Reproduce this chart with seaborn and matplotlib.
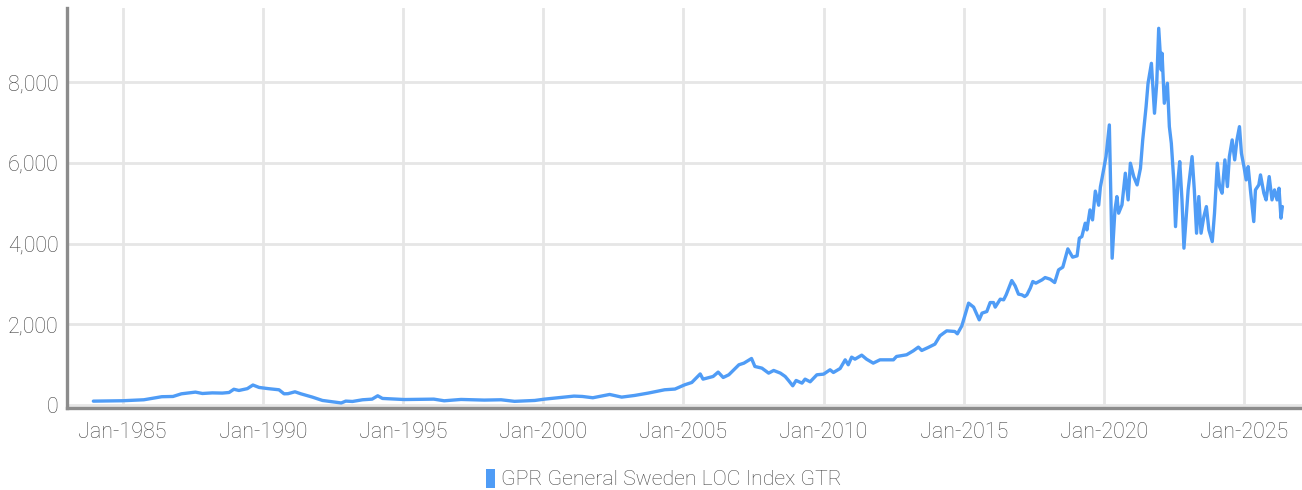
import matplotlib
matplotlib.use("Agg")
import matplotlib.pyplot as plt
import seaborn as sns
import pandas as pd
from matplotlib.patches import Patch
from matplotlib.ticker import FuncFormatter
from matplotlib import font_manager

series_name = "GPR General Sweden LOC Index GTR"

years = [
    1983.96, 1985.00, 1985.76, 1986.40, 1986.80, 1987.10, 1987.60, 1987.85, 1988.20, 1988.56,
    1988.80, 1988.97, 1989.15, 1989.45, 1989.65, 1989.87, 1990.20, 1990.58, 1990.76, 1990.90,
    1991.15, 1991.36, 1991.77, 1992.13, 1992.50, 1992.80, 1992.96, 1993.20, 1993.56, 1993.90,
    1994.10, 1994.27, 1994.75, 1995.05, 1996.10, 1996.47, 1997.07, 1997.90, 1998.50, 1998.98,
    1999.70, 2000.05, 2000.64, 2001.10, 2001.40, 2001.77, 2002.37, 2002.80, 2003.26, 2003.74,
    2004.33, 2004.70, 2005.05, 2005.30, 2005.60, 2005.70, 2006.06, 2006.24, 2006.42, 2006.62,
    2006.98, 2007.16, 2007.43, 2007.55, 2007.80, 2008.04, 2008.22, 2008.46, 2008.63, 2008.75,
    2008.90, 2009.02, 2009.23, 2009.34, 2009.52, 2009.76, 2010.00, 2010.23, 2010.35, 2010.59,
    2010.77, 2010.88, 2011.00, 2011.12, 2011.36, 2011.53, 2011.77, 2012.01, 2012.25, 2012.49,
    2012.60, 2012.96, 2013.20, 2013.38, 2013.50, 2013.73, 2013.97, 2014.15, 2014.39, 2014.68,
    2014.77, 2014.93, 2015.17, 2015.35, 2015.55, 2015.65, 2015.82, 2015.94, 2016.06, 2016.12,
    2016.30, 2016.42, 2016.51, 2016.71, 2016.83, 2016.95, 2017.07, 2017.17, 2017.25, 2017.37,
    2017.46, 2017.57, 2017.79, 2017.90, 2018.08, 2018.24, 2018.38, 2018.53, 2018.71, 2018.88,
    2019.04, 2019.12, 2019.21, 2019.33, 2019.39, 2019.50, 2019.59, 2019.69, 2019.81, 2019.87,
    2019.93, 2020.07, 2020.19, 2020.29, 2020.39, 2020.46, 2020.52, 2020.64, 2020.76, 2020.86,
    2020.94, 2021.06, 2021.18, 2021.30, 2021.38, 2021.50, 2021.57, 2021.69, 2021.80, 2021.88,
    2021.95, 2022.04, 2022.07, 2022.15, 2022.26, 2022.33, 2022.40, 2022.49, 2022.55, 2022.64,
    2022.70, 2022.78, 2022.85, 2022.93, 2023.00, 2023.14, 2023.22, 2023.30, 2023.38, 2023.46,
    2023.56, 2023.65, 2023.74, 2023.86, 2023.94, 2024.04, 2024.12, 2024.21, 2024.31, 2024.40,
    2024.47, 2024.57, 2024.66, 2024.74, 2024.83, 2024.90, 2024.99, 2025.07, 2025.14, 2025.22,
    2025.34, 2025.40, 2025.52, 2025.58, 2025.70, 2025.78, 2025.89, 2025.99, 2026.08, 2026.17,
    2026.24, 2026.31, 2026.36,
]

values = [
    90, 100, 124, 200, 206, 272, 314, 280, 295, 290,
    305, 385, 355, 400, 490, 430, 400, 372, 272, 275,
    322, 272, 190, 107, 74, 45, 91, 82, 124, 140,
    223, 157, 140, 130, 140, 99, 132, 116, 124, 85,
    107, 140, 181, 215, 206, 174, 256, 190, 231, 289,
    372, 390, 496, 553, 765, 636, 702, 810, 677, 744,
    992, 1033, 1148, 950, 909, 785, 851, 785, 702, 603,
    471, 603, 537, 636, 570, 744, 760, 868, 801, 900,
    1115, 992, 1181, 1132, 1231, 1132, 1033, 1115, 1115, 1115,
    1198, 1240, 1339, 1430, 1347, 1421, 1504, 1711, 1834, 1818,
    1760, 1958, 2521, 2422, 2107, 2273, 2313, 2536, 2536, 2422,
    2620, 2603, 2727, 3082, 2950, 2744, 2727, 2685, 2727, 2893,
    3057, 3017, 3099, 3156, 3115, 3032, 3347, 3413, 3867, 3661,
    3694, 4132, 4172, 4504, 4338, 4834, 4586, 5300, 4950, 5400,
    5620, 6156, 6941, 3636, 4834, 5164, 4752, 4958, 5744, 5082,
    5992, 5660, 5454, 5868, 6570, 7395, 7975, 8470, 7231, 7975,
    9338, 8305, 8718, 7479, 7975, 6899, 6487, 5536, 4420, 5578,
    6032, 5082, 3885, 4668, 5330, 6156, 5330, 4256, 5164, 4256,
    4668, 4916, 4338, 4048, 4752, 5992, 5412, 5248, 6074, 5412,
    6156, 6570, 6074, 6570, 6899, 6239, 5908, 5578, 5908, 5330,
    4544, 5330, 5454, 5702, 5248, 5082, 5660, 5082, 5330, 5082,
    5372, 4628, 4916,
]

x_tick_years = [1985, 1990, 1995, 2000, 2005, 2010, 2015, 2020, 2025]
x_tick_labels = ["Jan-1985", "Jan-1990", "Jan-1995", "Jan-2000", "Jan-2005",
                 "Jan-2010", "Jan-2015", "Jan-2020", "Jan-2025"]
y_ticks = [0, 2000, 4000, 6000, 8000]

line_color = "#4f9cf6"
text_color = "#454545"

sns.set_theme(style="white")
available = {f.name for f in font_manager.fontManager.ttflist}
fam = "Liberation Sans Narrow" if "Liberation Sans Narrow" in available else "Roboto"
plt.rcParams["font.family"] = [fam, "DejaVu Sans"]
plt.rcParams["font.weight"] = "light"

W, H = 1302, 490
fig = plt.figure(figsize=(W / 100, H / 100), dpi=100)
ax = fig.add_axes([67 / W, 1 - 408 / H, (W - 67) / W, 400 / H])

df = pd.DataFrame({"year": years, "value": values, "series": series_name})
sns.lineplot(data=df, x="year", y="value", ax=ax, color=line_color,
             linewidth=2.4, legend=False)

ax.set_xlim(1983.02, 2027.06)
ax.set_ylim(-80, 9842)
ax.set_xticks(x_tick_years)
ax.set_xticklabels(x_tick_labels)
ax.set_yticks(y_ticks)
ax.yaxis.set_major_formatter(FuncFormatter(lambda v, p: f"{int(v):,}"))
ax.set_xlabel("")
ax.set_ylabel("")

ax.grid(True, color="#e6e6e6", linewidth=2)
ax.set_axisbelow(True)
for s in ["top", "right"]:
    ax.spines[s].set_visible(False)
for s in ["left", "bottom"]:
    ax.spines[s].set_color("#8c8c8c")
    ax.spines[s].set_linewidth(2.4)

ax.tick_params(axis="both", length=0, labelsize=15.5, labelcolor=text_color)
ax.tick_params(axis="y", pad=6)
ax.tick_params(axis="x", pad=10)

fig.legend(handles=[Patch(facecolor=line_color, edgecolor="none", label=series_name)],
           loc="center", bbox_to_anchor=(0.510, 1 - 479 / H), frameon=False,
           handlelength=0.4, handleheight=1.0, handletextpad=0.3,
           fontsize=15.3, labelcolor=text_color)

fig.savefig("out.png", dpi=100)
